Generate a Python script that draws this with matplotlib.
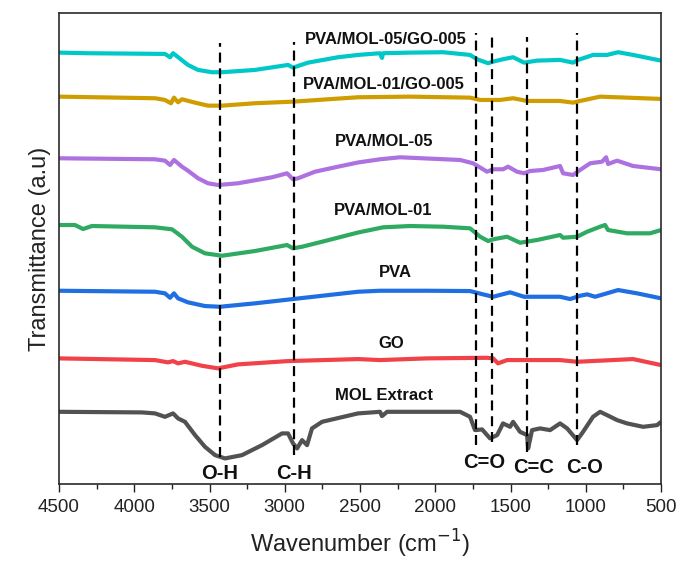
import matplotlib
matplotlib.use("Agg")
import matplotlib.pyplot as plt
import numpy as np

plt.rcParams['font.family'] = ['Liberation Sans', 'DejaVu Sans']

# wavenumbers (cm-1) and offset transmittance (a.u.)
wn_cyan = [4500, 4307, 3796, 3762, 3742, 3643, 3576, 3483, 3417, 3198, 2978, 2945, 2845, 2646, 2513,
           2367, 2354, 2347, 2168, 1948, 1769, 1723, 1649, 1616, 1550, 1483, 1410, 1324, 1171, 1085,
           1051, 952, 859, 785, 686, 500]
t_cyan = [431.3, 430.7, 430, 426.7, 430.7, 419, 414, 411.7, 411.7, 414, 419, 416.3, 421.3, 426.7, 429,
          430.7, 426, 430.7, 431.3, 431.7, 429, 424.7, 420.7, 422.3, 424.7, 426.7, 421.3, 423.3, 424, 421.3,
          424, 429, 429, 431.7, 429, 423.3]

wn_gold = [4500, 3862, 3796, 3756, 3736, 3709, 3683, 3596, 3510, 3417, 3198, 2945, 2513, 2168, 1769,
           1702, 1570, 1483, 1390, 1171, 1085, 1038, 905, 726, 500]
t_gold = [387.3, 385.7, 384, 380.7, 386.3, 381.7, 384.7, 381.3, 378.3, 378.3, 380.7, 382.3, 386.7, 387.3, 386.3,
          384, 384, 385.7, 383, 383, 381.3, 383, 387.3, 386.3, 385]

wn_purple = [4500, 3862, 3796, 3762, 3736, 3683, 3643, 3576, 3510, 3443, 3311, 3085, 2985, 2945, 2912,
             2799, 2646, 2513, 2367, 2234, 1835, 1749, 1656, 1616, 1550, 1516, 1457, 1410, 1370, 1284,
             1171, 1151, 1085, 1038, 971, 892, 865, 852, 792, 686, 500]
t_purple = [325.7, 324.7, 323.3, 319, 324, 317.3, 313.3, 305.7, 300.7, 299, 300.7, 306.7, 310.7, 304.7, 305.7,
            312.3, 317.3, 321.5, 324.7, 326.7, 324, 320.7, 312.3, 314.7, 314.7, 317.3, 312.3, 310.7, 313, 314,
            318, 310.7, 309, 314, 320.7, 322.3, 326.7, 320, 323.3, 318, 314.7]

wn_green = [4500, 4394, 4340, 4281, 3862, 3749, 3683, 3616, 3530, 3417, 3198, 2985, 2945, 2885, 2752,
            2513, 2347, 2168, 1948, 1769, 1702, 1649, 1616, 1523, 1437, 1324, 1171, 1151, 1058, 991,
            905, 872, 852, 726, 573, 500]
t_green = [259, 259, 255, 258, 256.7, 254.7, 247.3, 237.3, 230.7, 228.3, 233, 239, 235.7, 237.3, 242.3,
           251.5, 256.7, 258, 257.3, 255.7, 247.3, 243, 244.7, 247.3, 241.3, 244, 249, 246.3, 247.3, 252.3,
           257.3, 259, 254, 250.7, 250.7, 254]

wn_blue = [4500, 3862, 3796, 3762, 3736, 3709, 3643, 3530, 3430, 3198, 2945, 2513, 2367, 2055, 1769,
           1683, 1616, 1503, 1410, 1171, 1104, 1038, 991, 938, 785, 659, 500]
t_blue = [193.3, 192.3, 190.7, 186.3, 190.7, 185.7, 181.7, 178, 177.3, 180.7, 185, 192.3, 193.3, 193.3, 193,
          189.7, 187.3, 191.7, 187.3, 187.3, 185, 188.3, 189.7, 187.3, 194, 190.7, 185.7]

wn_red = [4500, 3862, 3776, 3742, 3709, 3663, 3550, 3443, 3311, 2978, 2513, 2367, 2055, 1656, 1616,
          1583, 1523, 1171, 1058, 686, 500]
t_red = [125.7, 124, 121.7, 123, 120.7, 122.3, 118.3, 115.7, 119.7, 123, 125, 124, 125.7, 126.3, 125.7,
         120.7, 124, 124, 122.3, 125, 119]

wn_gray = [4500, 3948, 3862, 3796, 3742, 3709, 3663, 3596, 3530, 3463, 3397, 3284, 3151, 3018, 2978,
           2945, 2918, 2885, 2852, 2819, 2752, 2513, 2367, 2354, 2320, 1835, 1769, 1736, 1689, 1636,
           1589, 1550, 1503, 1483, 1437, 1390, 1383, 1357, 1304, 1237, 1171, 1124, 1058, 1018, 952,
           905, 859, 792, 726, 619, 526, 500]
t_gray = [72.3, 71.7, 70.7, 67.3, 70.7, 65.7, 62.3, 49, 37.3, 29, 25.7, 29, 39, 50.7, 50.7,
          40.7, 35.7, 44, 39, 55.7, 62.3, 70.7, 72.3, 68, 72.3, 72.3, 67.3, 54, 54.7, 45.7,
          49, 60.7, 57.3, 62.3, 52.3, 49, 35.7, 54, 55.7, 54, 60.7, 55.7, 44, 52.3, 67.3,
          72.3, 69, 64, 60.7, 57.3, 59, 62.3]

sample_names = ["PVA/MOL-05/GO-005", "PVA/MOL-01/GO-005", "PVA/MOL-05", "PVA/MOL-01", "PVA", "GO", "MOL Extract"]
label_wn = [2327, 2340, 2340, 2347, 2267, 2294, 2340]
label_t = [444, 399, 342, 274, 212, 141, 89]

# band assignments: position, dashed line span, label
band_wn = [3430, 2940, 1729, 1625, 1393, 1056]
band_lo = [27, 29, 39, 42, 32, 39]
band_hi = [441, 442, 451, 451, 447, 451]
band_names = ["O-H", "C-H", "C=O", "C=C", "C-O"]
band_name_wn = [3430, 2938, 1676, 1350, 1011]
band_name_t = [11, 11, 22, 17, 17]

colors = ["#00C8C8", "#D09D00", "#AE72E0", "#2FAA62", "#1F6FE2", "#F04248", "#525252"]
series = [(wn_cyan, t_cyan), (wn_gold, t_gold), (wn_purple, t_purple), (wn_green, t_green),
          (wn_blue, t_blue), (wn_red, t_red), (wn_gray, t_gray)]

fig = plt.figure(figsize=(6.78, 5.61), dpi=100)
ax = fig.add_axes([0.087, 0.137, 0.888, 0.840])

for (x, y), c in zip(series, colors):
    ax.plot(x, y, color=c, lw=3, solid_joinstyle='round', solid_capstyle='butt')

for x, lo, hi in zip(band_wn, band_lo, band_hi):
    ax.plot([x, x], [lo, hi], color='black', lw=1.6, linestyle=(0, (4.5, 2.6)))

for name, x, y in zip(sample_names, label_wn, label_t):
    ax.text(x, y, name, ha='center', va='center', fontsize=12, fontweight='bold', color='#111111')

for name, x, y in zip(band_names, band_name_wn, band_name_t):
    ax.text(x, y, name, ha='center', va='center', fontsize=14.5, fontweight='bold', color='#111111')

ax.set_xlim(4500, 500)
ax.set_ylim(0, 471)
ax.set_xticks(np.arange(4500, 499, -500))
ax.set_xticks(np.arange(4250, 500, -500), minor=True)
ax.set_yticks([])
ax.tick_params(axis='x', which='major', direction='out', length=6, width=1, labelsize=13.5,
               colors='#222222', pad=5)
ax.tick_params(axis='x', which='minor', direction='out', length=3.5, width=1, colors='#222222')
for s in ax.spines.values():
    s.set_linewidth(1.2)
    s.set_color('#2a2a2a')

ax.set_xlabel("Wavenumber (cm$^{-1}$)", fontsize=17, color='#222222', labelpad=8)
ax.set_ylabel("Transmittance (a.u)", fontsize=17, color='#222222', labelpad=6)

fig.savefig("out.png", dpi=100)
